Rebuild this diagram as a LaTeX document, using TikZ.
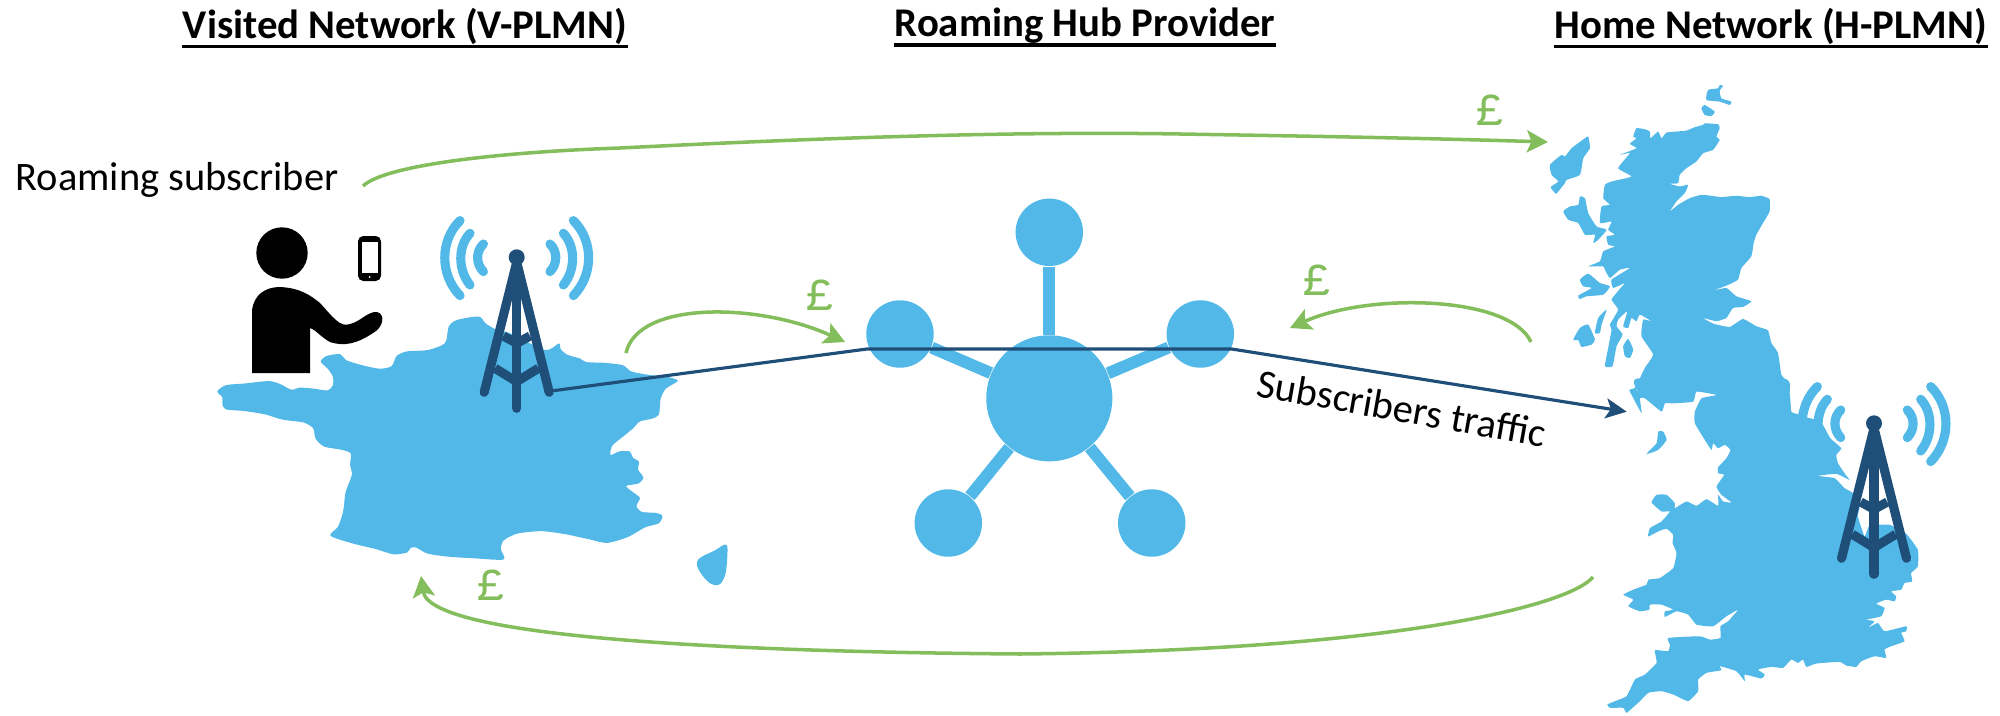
\documentclass[tikz,border=0pt]{standalone}
\usepackage{fontspec}
\setmainfont{Carlito}
\newfontfamily\poundfont{Liberation Mono}
\usetikzlibrary{arrows.meta}
\definecolor{mapblue}{HTML}{51B8E8}
\definecolor{towerblue}{HTML}{1F4E79}
\definecolor{moneygreen}{HTML}{84BD5B}
\tikzset{
    land/.style={fill=mapblue,draw=none},
    hubnode/.style={circle,fill=mapblue,inner sep=0pt},
    spoke/.style={draw=mapblue,line width=3.4pt},
    wave/.style={draw=mapblue,line width=2.6pt,line cap=round},
    mast/.style={draw=towerblue,line width=2.6pt,line cap=round},
    traffic/.style={draw=towerblue,line width=0.9pt,-{Stealth[length=2.1mm,width=2mm,inset=0.5mm]}},
    money/.style={draw=moneygreen,line width=1pt,-{Stealth[length=2.1mm,width=2.2mm,inset=0.45mm]}},
    pound/.style={text=moneygreen,font=\poundfont\fontsize{13}{14}\selectfont,inner sep=0pt},
    heading/.style={font=\bfseries\fontsize{11.6}{14}\selectfont,inner sep=0pt},
    headrule/.style={line width=1.1pt},
    plain/.style={font=\fontsize{11.5}{14}\selectfont,inner sep=0pt},
    tower/.pic={
        \foreach \sgn in {-1,1}{
            \foreach \xa/\xc/\ya/\yb in {-33.3/-41/-13.3/14.3,-46.7/-59/-24/27.7,-56.7/-77/-36.7/38.3}{
                \draw[wave] (\sgn*\xa,\ya) .. controls (\sgn*\xc,\ya*0.45) and (\sgn*\xc,\yb*0.45) .. (\sgn*\xa,\yb);
            }
            \draw[mast] (0,5) -- (\sgn*32.5,135);
            \draw[mast,line cap=butt] (\sgn*21.7,111) -- (0,124.3);
            \draw[mast,line cap=butt] (\sgn*13.3,78.7) -- (0,86);
        }
        \draw[mast] (0,5) -- (0,151);
        \fill[towerblue] (0,0) circle (8);
        \coordinate (-foot) at (36.6,133.4);
    }
}
\begin{document}
\begin{tikzpicture}[x=0.01cm,y=-0.01cm]
    \useasboundingbox (0,0) rectangle (2000,715);

    % France
    \begin{scope}[shift={(200,330)},x=0.003444cm,y=-0.003444cm]
        \fill[land] plot[smooth cycle,tension=0.45] coordinates {
            (50,178) (75,160) (130,155) (200,148) (235,158) (265,173) (290,167) (330,170) (370,175) (385,160) (385,135) (370,112) (350,92) (365,76) (405,70) (425,88) (470,102) (520,112) (555,105) (570,75) (600,62) (660,58) (710,38) (721,-10) (745,-29) (808,-39) (828,-19) (861,0) (900,10) (1000,58) (1040,39) (1045,55) (1065,72) (1100,82) (1120,93) (1170,95) (1225,102) (1250,120) (1300,130) (1350,135) (1385,147) (1350,170) (1335,200) (1330,245) (1310,257) (1275,265) (1255,285) (1225,310) (1195,335) (1190,362) (1215,352) (1245,352) (1255,370) (1272,382) (1270,405) (1285,428) (1270,445) (1235,452) (1255,470) (1275,487) (1265,510) (1280,527) (1320,530) (1340,538) (1330,560) (1290,572) (1240,600) (1180,617) (1130,607) (1060,592) (990,583) (920,590) (880,610) (872,635) (880,665) (800,662) (720,657) (660,648) (625,630) (610,632) (600,645) (560,650) (510,635) (440,618) (378,596) (400,570) (415,525) (422,470) (440,420) (435,390) (437,358) (410,347) (360,338) (335,315) (328,285) (300,268) (240,260) (190,245) (130,235) (75,230) (65,215) (65,195)};
        \fill[land] plot[smooth cycle,tension=0.6] coordinates {
            (1525,622) (1490,640) (1450,660) (1440,680) (1455,710) (1480,735) (1505,738) (1522,710) (1528,660)};
    \end{scope}

    % Scotland and islands
    \begin{scope}[shift={(1530,70)},x=0.003333cm,y=-0.003333cm]
        \fill[land] plot[smooth cycle,tension=0.25] coordinates {
            (320,175) (345,178) (360,185) (362,205) (385,185) (395,205) (410,188) (440,185) (470,182) (495,172) (520,165) (525,160) (565,163) (570,175) (560,200) (570,210) (550,240) (520,250) (500,275) (470,295) (450,315) (445,340) (420,342) (450,350) (475,345) (465,370) (440,395) (420,425) (445,405) (480,385) (515,375) (545,378) (575,382) (620,378) (660,382) (695,378) (720,388) (720,425) (700,460) (680,495) (672,520) (665,560) (635,595) (625,630) (590,648) (550,663) (590,655) (620,680) (665,695) (640,712) (610,715) (590,745) (560,755) (520,745) (550,762) (600,772) (640,748) (680,770) (715,782) (725,820) (745,850) (755,915) (770,960) (330,960) (320,950) (345,895) (370,855) (335,800) (340,750) (365,755) (330,735) (320,755) (305,745) (295,775) (280,770) (292,725) (265,750) (260,770) (278,795) (260,830) (248,890) (225,890) (235,835) (245,780) (240,765) (265,720) (245,690) (268,660) (285,640) (250,655) (245,630) (300,595) (270,600) (240,625) (225,600) (220,590) (175,590) (210,575) (220,545) (255,530) (235,525) (230,500) (255,495) (235,480) (245,455) (210,460) (215,410) (240,405) (220,385) (225,345) (245,335) (305,320) (265,295) (300,250) (270,255) (320,235) (300,222) (320,205) (310,200)};
        \foreach \isle in {
            {(530,90) (535,60) (565,55) (570,45) (580,48) (570,62) (575,85) (605,95) (600,105) (570,95)},
            {(515,115) (525,105) (555,125) (545,138) (525,135)},
            {(60,285) (95,255) (105,260) (125,235) (165,205) (175,200) (180,235) (160,265) (150,315) (110,330) (105,340) (85,365) (78,372) (62,352) (85,335) (65,315)},
            {(100,425) (120,410) (145,405) (150,380) (165,385) (175,430) (200,470) (230,480) (205,510) (190,520) (195,495) (165,495) (145,460) (115,450)},
            {(150,630) (175,612) (210,640) (240,650) (220,675) (170,680) (150,688) (145,678) (185,655) (160,650)},
            {(130,810) (150,775) (175,765) (195,810) (185,825) (155,832) (145,812)},
            {(195,790) (205,745) (230,720) (215,765) (210,790)},
            {(280,830) (295,808) (310,840) (300,865) (285,860)}}{
            \fill[land] plot[smooth cycle,tension=0.3] coordinates {\isle};
        }
    \end{scope}

    % England and Wales
    \begin{scope}[shift={(1590,380)},x=0.003333cm,y=-0.003333cm]
        \fill[land] plot[smooth cycle,tension=0.25] coordinates {
            (580,-5) (600,40) (605,95) (625,103) (650,112) (680,120) (700,135) (722,175) (755,205) (740,225) (745,250) (768,285) (780,300) (740,282) (685,288) (735,295) (765,325) (790,340) (810,380) (805,410) (825,470) (840,437) (900,435) (950,462) (985,510) (985,560) (965,580) (968,605) (945,610) (935,630) (905,635) (920,650) (915,665) (890,660) (860,672) (885,685) (875,710) (830,720) (855,725) (835,745) (865,730) (885,755) (950,740) (950,755) (935,760) (945,785) (905,800) (885,810) (890,835) (855,830) (815,845) (800,862) (770,858) (750,847) (680,852) (650,862) (640,840) (625,850) (605,840) (580,865) (545,862) (505,870) (525,885) (515,897) (465,885) (465,905) (440,875) (390,860) (395,872) (350,880) (325,900) (325,935) (295,965) (250,945) (215,935) (175,940) (150,965) (110,1000) (100,985) (60,985) (52,975) (75,965) (110,950) (135,900) (165,885) (200,850) (195,812) (235,815) (240,795) (235,775) (330,770) (360,780) (392,775) (392,740) (415,725) (445,690) (410,710) (370,740) (320,735) (295,705) (260,695) (225,712) (225,695) (250,690) (215,675) (180,675) (178,690) (150,695) (115,680) (130,660) (100,645) (130,630) (170,615) (175,600) (210,595) (250,565) (260,520) (248,490) (250,465) (230,447) (205,455) (175,470) (180,445) (215,425) (240,395) (215,395) (185,368) (200,345) (230,345) (255,370) (255,385) (290,365) (320,378) (350,358) (385,378) (385,345) (400,365) (425,368) (395,345) (380,320) (403,285) (385,280) (385,262) (410,235) (422,210) (405,195) (385,205) (370,190) (365,210) (345,180) (315,130) (315,95) (335,55) (380,45) (320,35) (310,65) (250,70) (225,70) (215,95) (165,55) (150,55) (155,100) (125,45) (118,30) (135,25) (145,35) (145,-5)};
        \fill[land] plot[smooth cycle,tension=0.3] coordinates {
            (170,222) (200,190) (205,155) (220,155) (230,180) (205,210)};
    \end{scope}

    % person with phone
    \fill (282,253) circle (25.7);
    \fill (252,373) -- (252,310) .. controls (254,295) and (265,287) .. (280,287) .. controls (300,288) and (310,295) .. (320,303) .. controls (332,316) and (340,328) .. (350,324) .. controls (360,322) and (368,311) .. (377,312) .. controls (386,314) and (383,328) .. (373,333) .. controls (358,343) and (345,347) .. (330,342) .. controls (322,338) and (316,330) .. (310,328) -- (310,373) -- cycle;
    \fill[rounded corners=1.5] (358,236) rectangle (381,281);
    \fill[white] (362,242) rectangle (378,273);
    \fill[white] (369.5,277) circle (1);

    \pic (towerv) at (516.7,257.3) {tower};
    \pic (towerh) at (1874,423.3) {tower};

    % hub
    \node[hubnode,minimum size=1.26cm] (hubc) at (1049.3,398.3) {};
    \node[hubnode,minimum size=0.674cm] (hubt) at (1049.3,232.3) {};
    \node[hubnode,minimum size=0.674cm] (hubl) at (900,334) {};
    \node[hubnode,minimum size=0.674cm] (hubr) at (1200.3,334) {};
    \node[hubnode,minimum size=0.674cm] (hubbl) at (948.3,523) {};
    \node[hubnode,minimum size=0.674cm] (hubbr) at (1151.7,523) {};
    \foreach \leaf in {hubt,hubl,hubr,hubbl,hubbr}{
        \draw[spoke] (hubc) -- (\leaf);
    }

    \coordinate (ukin) at (1626.7,411.7);
    \coordinate (hubin) at (867,349);
    \coordinate (hubout) at (1231.7,349);
    \draw[traffic] (towerv-foot) -- (hubin) -- (hubout) -- (ukin);

    \coordinate (topa) at (363,186);
    \coordinate (topb) at (1548,142);
    \coordinate (lefta) at (626,353);
    \coordinate (leftb) at (845,342);
    \coordinate (righta) at (1531,342);
    \coordinate (rightb) at (1290,328);
    \coordinate (lowa) at (1593,577);
    \coordinate (lowb) at (421,576);
    \draw[money] (topa) .. controls (385,165) and (500,152) .. (620,148) .. controls (800,139) and (1000,131) .. (1180,134) .. controls (1300,136) and (1420,138) .. (topb);
    \draw[money] (lefta) .. controls (638,300) and (760,303) .. (leftb);
    \draw[money] (righta) .. controls (1510,296) and (1370,292) .. (rightb);
    \draw[money] (lowa) .. controls (1570,605) and (1400,650) .. (1020,654) .. controls (760,652) and (430,640) .. (lowb);

    \node[pound] (poundtop) at (1490,110) {£};
    \node[pound] (poundright) at (1317,280) {£};
    \node[pound] (poundleft) at (820,295) {£};
    \node[pound] (poundlow) at (491,585.5) {£};

    \node[heading] (visited) at (405,26) {Visited Network (V-PLMN)};
    \node[heading] (roaming) at (1085,26) {Roaming Hub Provider};
    \node[heading] (home) at (1771,26) {Home Network (H-PLMN)};
    \foreach \head in {visited,roaming,home}{
        \draw[headrule] ([yshift=-2.4pt]\head.base west) -- ([yshift=-2.4pt]\head.base east);
    }
    \node[plain] (subscriber) at (177,180) {Roaming subscriber};
    \node[plain,rotate=-10] (trafficlabel) at (1402,408) {Subscribers traffic};
\end{tikzpicture}
\end{document}
